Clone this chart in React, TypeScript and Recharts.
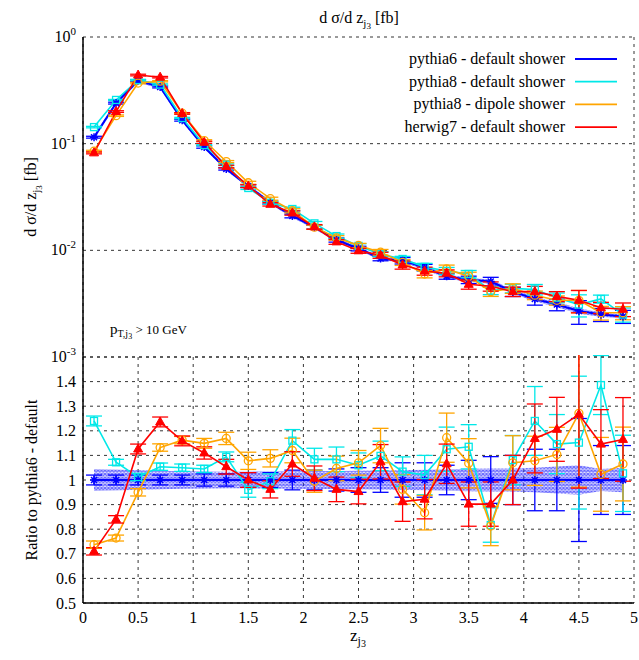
import React from "react";
import { Area, CartesianGrid, ComposedChart, ErrorBar, Line, XAxis, YAxis } from "recharts";

// bin centres in z_j3
const zBins = [0.1, 0.3, 0.5, 0.7, 0.9, 1.1, 1.3, 1.5, 1.7, 1.9, 2.1, 2.3, 2.5, 2.7, 2.9, 3.1, 3.3, 3.5, 3.7, 3.9, 4.1, 4.3, 4.5, 4.7, 4.9];

// d sigma / d z [fb]
const p6Top = [0.115, 0.24, 0.39, 0.34, 0.166, 0.093, 0.058, 0.04, 0.028, 0.021, 0.0165, 0.0125, 0.0104, 0.0084, 0.008, 0.0069, 0.0057, 0.0053, 0.0051, 0.0041, 0.0035, 0.0031, 0.0027, 0.0025, 0.0024];
const p8Top = [0.143, 0.257, 0.395, 0.358, 0.174, 0.097, 0.0635, 0.0384, 0.0279, 0.0244, 0.0179, 0.0136, 0.011, 0.0092, 0.0083, 0.007, 0.0064, 0.006, 0.0042, 0.0044, 0.0043, 0.0036, 0.0031, 0.0035, 0.0025];
const dipTop = [0.085, 0.183, 0.37, 0.385, 0.193, 0.107, 0.068, 0.043, 0.0305, 0.0235, 0.0165, 0.0131, 0.0111, 0.0096, 0.0077, 0.006, 0.0067, 0.0057, 0.0041, 0.0044, 0.0038, 0.0034, 0.0034, 0.0026, 0.0026];
const hwTop = [0.082, 0.2, 0.44, 0.42, 0.192, 0.103, 0.061, 0.04, 0.027, 0.0224, 0.0166, 0.012, 0.0099, 0.009, 0.0073, 0.0064, 0.0061, 0.0048, 0.0046, 0.0041, 0.0041, 0.0037, 0.0034, 0.0029, 0.0028];

// ratio to pythia6
const p6Ratio = [1, 1, 1, 1, 1, 1, 1, 1, 1, 1, 1, 1, 1, 1, 1, 1, 1, 1, 1, 1, 1, 1, 1, 1, 1];
const p8Ratio = [1.24, 1.072, 1.012, 1.054, 1.05, 1.045, 1.094, 0.96, 0.995, 1.16, 1.084, 1.084, 1.06, 1.098, 1.034, 1.02, 1.125, 1.135, 0.817, 1.081, 1.24, 1.146, 1.152, 1.386, 1.027];
const dipRatio = [0.737, 0.764, 0.95, 1.132, 1.162, 1.149, 1.169, 1.078, 1.088, 1.12, 0.995, 1.047, 1.07, 1.14, 0.962, 0.867, 1.172, 1.068, 0.813, 1.07, 1.078, 1.104, 1.271, 1.023, 1.065];
const hwRatio = [0.71, 0.84, 1.126, 1.236, 1.159, 1.11, 1.054, 1.0, 0.962, 1.065, 1.007, 0.962, 0.953, 1.074, 0.912, 0.922, 1.066, 0.902, 0.902, 1.0, 1.169, 1.206, 1.267, 1.146, 1.165];

// ratio errors
const p6Err = [0.02, 0.02, 0.02, 0.02, 0.02, 0.025, 0.025, 0.03, 0.03, 0.04, 0.04, 0.045, 0.05, 0.05, 0.07, 0.07, 0.06, 0.08, 0.095, 0.1, 0.125, 0.125, 0.25, 0.14, 0.14];
const p8Err = [0.02, 0.012, 0.015, 0.015, 0.015, 0.015, 0.02, 0.03, 0.03, 0.045, 0.045, 0.05, 0.05, 0.06, 0.06, 0.08, 0.09, 0.09, 0.07, 0.1, 0.14, 0.12, 0.27, 0.12, 0.155];
const dipErr = [0.015, 0.012, 0.015, 0.015, 0.015, 0.02, 0.025, 0.035, 0.035, 0.05, 0.045, 0.05, 0.05, 0.07, 0.06, 0.07, 0.1, 0.1, 0.08, 0.11, 0.1, 0.11, 0.3, 0.15, 0.15];
const hwErr = [0.015, 0.015, 0.02, 0.02, 0.02, 0.025, 0.03, 0.03, 0.035, 0.05, 0.05, 0.05, 0.05, 0.07, 0.08, 0.08, 0.08, 0.09, 0.09, 0.1, 0.14, 0.13, 0.3, 0.14, 0.17];
// hatched pythia6 uncertainty band (half width, relative)
const bandHalf = [0.045, 0.043, 0.04, 0.038, 0.036, 0.035, 0.034, 0.034, 0.035, 0.036, 0.037, 0.037, 0.038, 0.039, 0.04, 0.042, 0.044, 0.046, 0.047, 0.047, 0.05, 0.055, 0.06, 0.045, 0.05];

const xTicks = [0, 0.5, 1, 1.5, 2, 2.5, 3, 3.5, 4, 4.5, 5];
const logTicks = [0.001, 0.01, 0.1, 1];
const logTickLabels = ["-3", "-2", "-1", "0"];
const logMinor = [0.002, 0.003, 0.004, 0.005, 0.006, 0.007, 0.008, 0.009, 0.02, 0.03, 0.04, 0.05, 0.06, 0.07, 0.08, 0.09, 0.2, 0.3, 0.4, 0.5, 0.6, 0.7, 0.8, 0.9];
const ratioTicks = [0.5, 0.6, 0.7, 0.8, 0.9, 1, 1.1, 1.2, 1.3, 1.4, 1.5];
const ratioTickLabels = ["0.5", "0.6", "0.7", "0.8", "0.9", "1", "1.1", "1.2", "1.3", "1.4", ""];
const ratioMinor = Array.from({ length: 51 }, (_, i) => Math.round((0.5 + i * 0.02) * 100) / 100);

const series = [
    { key: "p6", name: "pythia6 - default shower", color: "#0000ff", shape: "star", top: p6Top, ratio: p6Ratio, err: p6Err },
    { key: "p8", name: "pythia8 - default shower", color: "#00e8e8", shape: "square", top: p8Top, ratio: p8Ratio, err: p8Err },
    { key: "dip", name: "pythia8 - dipole shower", color: "#ffa500", shape: "circle", top: dipTop, ratio: dipRatio, err: dipErr },
    { key: "hw", name: "herwig7 - default shower", color: "#ff0000", shape: "triangle", top: hwTop, ratio: hwRatio, err: hwErr },
];

const topRows = zBins.map((z, i) => {
    const row: any = { z, band: [p6Top[i] * (1 - bandHalf[i]), p6Top[i] * (1 + bandHalf[i])] };
    series.forEach((s) => {
        row[s.key] = s.top[i];
        row[s.key + "e"] = (s.top[i] * s.err[i]) / s.ratio[i];
    });
    return row;
});

const ratioRows = zBins.map((z, i) => {
    const row: any = { z, band: [1 - bandHalf[i], 1 + bandHalf[i]] };
    series.forEach((s) => {
        row[s.key] = s.ratio[i];
        row[s.key + "e"] = s.err[i];
    });
    return row;
});

const FONT = "'Liberation Serif', 'Times New Roman', serif";

const marker = (shape: string, color: string) => (props: any) => {
    const { cx, cy, index } = props;
    if (cx == null || cy == null) return <g key={index} />;
    if (shape === "square")
        return <rect key={index} x={cx - 3.5} y={cy - 3.5} width={7} height={7} fill="none" stroke={color} strokeWidth={1.3} />;
    if (shape === "circle")
        return <circle key={index} cx={cx} cy={cy} r={4} fill="none" stroke={color} strokeWidth={1.3} />;
    if (shape === "triangle")
        return <path key={index} d={`M${cx},${cy - 5} L${cx + 4.5},${cy + 3} L${cx - 4.5},${cy + 3} Z`} fill={color} stroke={color} />;
    return (
        <path
            key={index}
            d={`M${cx - 4},${cy} L${cx + 4},${cy} M${cx},${cy - 4} L${cx},${cy + 4} M${cx - 3},${cy - 3} L${cx + 3},${cy + 3} M${cx - 3},${cy + 3} L${cx + 3},${cy - 3}`}
            stroke={color}
            strokeWidth={1.5}
        />
    );
};

const LogTick = (props: any) => {
    const { x, y, payload } = props;
    const i = logTicks.indexOf(payload.value);
    return (
        <text x={x} y={y} dy={5} textAnchor="end" fontSize={16} fontFamily={FONT} fill="#000">
            10<tspan dy={-7} fontSize={11}>{logTickLabels[i]}</tspan>
        </text>
    );
};

const axisLine = { stroke: "#000", strokeWidth: 1.5 };
const tickFont = { fontSize: 16, fill: "#000", fontFamily: FONT };

const renderSeries = () => [
    <Area key="band" dataKey="band" type="linear" stroke="none" fill="url(#hatch)" isAnimationActive={false} />,
    ...series.map((s) => (
        <Line
            key={s.key}
            dataKey={s.key}
            type="linear"
            stroke={s.color}
            strokeWidth={s.key === "p6" ? 2 : 1.6}
            dot={marker(s.shape, s.color)}
            activeDot={false}
            isAnimationActive={false}
        >
            <ErrorBar dataKey={s.key + "e"} width={8} stroke={s.color} strokeWidth={1.3} direction="y" />
        </Line>
    )),
];

const App = () => {
    return (
        <div style={{ position: "absolute", left: 0, top: 0, width: 639, height: 660, background: "#fff", fontFamily: FONT }}>
            <svg width={0} height={0} style={{ position: "absolute" }}>
                <defs>
                    <pattern id="hatch" width={3.5} height={3.5} patternUnits="userSpaceOnUse">
                        <rect width={3.5} height={3.5} fill="#b8b8ff" fillOpacity={0.45} />
                        <path d="M0,0 L3.5,3.5 M3.5,0 L0,3.5" stroke="#0000ff" strokeWidth={1.2} />
                    </pattern>
                </defs>
            </svg>

            <div style={{ position: "absolute", left: 0, top: 355 }}>
                <ComposedChart width={639} height={305} data={ratioRows} margin={{ top: 2, right: 5, bottom: 0, left: 0 }}>
                    <CartesianGrid stroke="#000" strokeDasharray="3 4" strokeWidth={0.8} />
                    <XAxis xAxisId={0} dataKey="z" type="number" domain={[0, 5]} ticks={xTicks} orientation="bottom" height={57} tickLine={false} tickSize={0} tickMargin={9} interval={0} tick={tickFont} axisLine={axisLine} allowDataOverflow />
                    <XAxis xAxisId="b" dataKey="z" type="number" domain={[0, 5]} ticks={xTicks} orientation="bottom" mirror height={0} tick={false} tickSize={6} stroke="#000" axisLine={false} allowDataOverflow />
                    <XAxis xAxisId="t" dataKey="z" type="number" domain={[0, 5]} ticks={xTicks} orientation="top" mirror height={0} tick={false} tickSize={6} stroke="#000" axisLine={axisLine} allowDataOverflow />
                    <YAxis yAxisId={0} type="number" domain={[0.5, 1.5]} ticks={ratioTicks} width={83} tickLine={false} tickSize={0} tickMargin={7} interval={0} tickFormatter={(v: number) => ratioTickLabels[ratioTicks.indexOf(v)] ?? ""} tick={tickFont} axisLine={axisLine} allowDataOverflow />
                    <YAxis yAxisId="lM" type="number" domain={[0.5, 1.5]} ticks={ratioTicks} mirror width={0} tick={false} tickSize={8} stroke="#000" axisLine={false} interval={0} allowDataOverflow />
                    <YAxis yAxisId="lm" type="number" domain={[0.5, 1.5]} ticks={ratioMinor} mirror width={0} tick={false} tickSize={4} stroke="#000" axisLine={false} interval={0} allowDataOverflow />
                    <YAxis yAxisId="rM" orientation="right" type="number" domain={[0.5, 1.5]} ticks={ratioTicks} mirror width={0} tick={false} tickSize={8} stroke="#000" axisLine={axisLine} interval={0} allowDataOverflow />
                    <YAxis yAxisId="rm" orientation="right" type="number" domain={[0.5, 1.5]} ticks={ratioMinor} mirror width={0} tick={false} tickSize={4} stroke="#000" axisLine={false} interval={0} allowDataOverflow />
                    {renderSeries()}
                </ComposedChart>
            </div>

            <div style={{ position: "absolute", left: 0, top: 0 }}>
                <ComposedChart width={639} height={372} data={topRows} margin={{ top: 37, right: 5, bottom: 15, left: 0 }}>
                    <CartesianGrid stroke="#000" strokeDasharray="3 4" strokeWidth={0.8} />
                    <XAxis xAxisId={0} dataKey="z" type="number" domain={[0, 5]} ticks={xTicks} orientation="bottom" mirror height={0} tick={false} tickSize={6} stroke="#000" axisLine={axisLine} allowDataOverflow />
                    <XAxis xAxisId="t" dataKey="z" type="number" domain={[0, 5]} ticks={xTicks} orientation="top" mirror height={0} tick={false} tickSize={6} stroke="#000" axisLine={axisLine} allowDataOverflow />
                    <YAxis yAxisId={0} type="number" scale="log" domain={[0.001, 1]} ticks={logTicks} width={83} tickLine={false} tickSize={0} tickMargin={7} tick={(p: any) => <LogTick {...p} />} axisLine={axisLine} interval={0} allowDataOverflow />
                    <YAxis yAxisId="lM" type="number" scale="log" domain={[0.001, 1]} ticks={logTicks} mirror width={0} tick={false} tickSize={8} stroke="#000" axisLine={false} allowDataOverflow />
                    <YAxis yAxisId="lm" type="number" scale="log" domain={[0.001, 1]} ticks={logMinor} mirror width={0} tick={false} tickSize={4} stroke="#000" axisLine={false} interval={0} allowDataOverflow />
                    <YAxis yAxisId="rM" orientation="right" type="number" scale="log" domain={[0.001, 1]} ticks={logTicks} mirror width={0} tick={false} tickSize={8} stroke="#000" axisLine={axisLine} allowDataOverflow />
                    <YAxis yAxisId="rm" orientation="right" type="number" scale="log" domain={[0.001, 1]} ticks={logMinor} mirror width={0} tick={false} tickSize={4} stroke="#000" axisLine={false} interval={0} allowDataOverflow />
                    {renderSeries()}
                </ComposedChart>
            </div>

            <svg width={639} height={660} style={{ position: "absolute", left: 0, top: 0, pointerEvents: "none" }} fontFamily={FONT} fill="#000">
                <text x={359} y={23} textAnchor="middle" fontSize={16}>
                    d σ/d z<tspan dy={4} fontSize={11}>j</tspan><tspan dy={2} fontSize={9}>3</tspan><tspan dy={-6} fontSize={16}> [fb]</tspan>
                </text>
                <text x={36} y={197} transform="rotate(-90 36 197)" textAnchor="middle" fontSize={16}>
                    d σ/d z<tspan dy={4} fontSize={11}>j</tspan><tspan dy={2} fontSize={9}>3</tspan><tspan dy={-6} fontSize={16}> [fb]</tspan>
                </text>
                <text x={37} y={480} transform="rotate(-90 37 480)" textAnchor="middle" fontSize={16}>
                    Ratio to pythia6 - default
                </text>
                <text x={358} y={641} textAnchor="middle" fontSize={17}>
                    z<tspan dy={4} fontSize={12}>j</tspan><tspan dy={2} fontSize={10}>3</tspan>
                </text>
                <text x={110} y={334} fontSize={15}>
                    p<tspan dy={3} fontSize={10}>T,j</tspan><tspan dy={2} fontSize={8}>3</tspan><tspan dy={-5} fontSize={13}> {">"} 10 GeV</tspan>
                </text>
                {series.map((s, i) => (
                    <g key={s.key}>
                        <text x={565} y={59 + i * 22.7 + 5} textAnchor="end" fontSize={16}>{s.name}</text>
                        <line x1={575} x2={617} y1={59 + i * 22.7} y2={59 + i * 22.7} stroke={s.color} strokeWidth={1.8} />
                    </g>
                ))}
            </svg>
        </div>
    );
};

export default App;
